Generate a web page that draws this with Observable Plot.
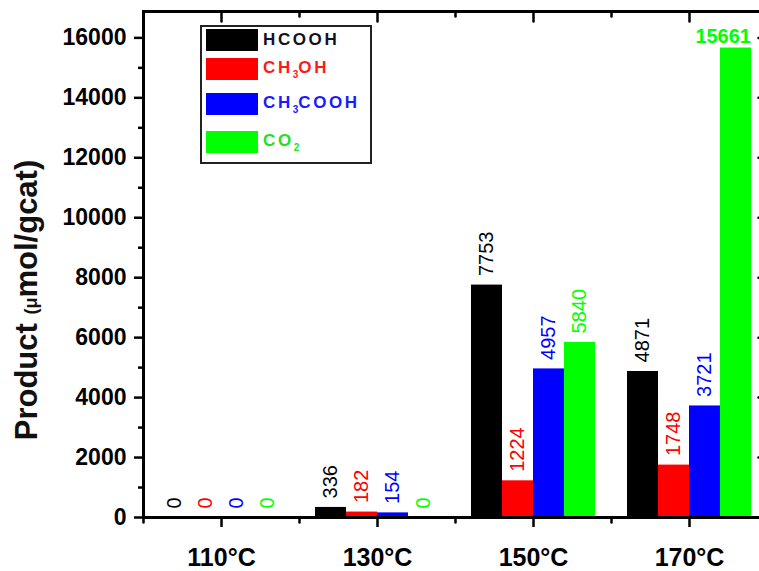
<!DOCTYPE html>
<html>
<head>
<meta charset="utf-8">
<script src="https://cdn.jsdelivr.net/npm/d3@7"></script>
<script src="https://cdn.jsdelivr.net/npm/@observablehq/plot@0.6"></script>
<style>
  html, body { margin: 0; padding: 0; background: #fff; }
  #wrap { position: relative; width: 759px; height: 571px; overflow: hidden; font-family: "Liberation Sans", Arial, sans-serif; }
  #legend { position: absolute; left: 200px; top: 25px; width: 168px; height: 135px; border: 2px solid #222; background: #fff; box-sizing: content-box; }
  .row { position: absolute; left: 4px; height: 22px; display: flex; align-items: center; }
  .sw { width: 52px; height: 22px; }
  .lab { margin-left: 5px; font-size: 17px; font-weight: bold; letter-spacing: 2.6px; white-space: nowrap; }
  .lab sub { font-size: 10px; vertical-align: -5px; letter-spacing: 0; }
</style>
</head>
<body>
<div id="wrap">
  <div id="chart"></div>
  <div id="legend"></div>
</div>
<script>
// ---- data ----
const temps = ["110°C", "130°C", "150°C", "170°C"];
const series = ["HCOOH", "CH3OH", "CH3COOH", "CO2"];
const seriesLabelsHtml = ["HCOOH", "CH<sub>3</sub>OH", "CH<sub>3</sub>COOH", "CO<sub>2</sub>"];
const hcooh = [0, 336, 7753, 4871];
const ch3oh = [0, 182, 1224, 1748];
const ch3cooh = [0, 154, 4957, 3721];
const co2 = [0, 0, 5840, 15661];
const barColors = ["#000000", "#ff0000", "#0000ff", "#00ff00"];
const legendTextColors = ["#111122", "#ff1a1a", "#1a1aff", "#22e022"];
const yMajorTicks = [0, 2000, 4000, 6000, 8000, 10000, 12000, 14000, 16000];
const yMinorTicks = [1000, 3000, 5000, 7000, 9000, 11000, 13000, 15000];
const yMax = 16880;

const valuesBySeries = [hcooh, ch3oh, ch3cooh, co2];
const rows = temps.flatMap((t, i) => series.map((s, j) => ({temp: t, series: s, value: valuesBySeries[j][i]})));
const isTall = d => d.value > 14000;

const tickShape = {draw(context, l) { context.moveTo(0, 0); context.lineTo(0, -l); }};
const FONT = "'Liberation Sans', Arial, sans-serif";

const chart = Plot.plot({
  width: 759,
  height: 571,
  marginLeft: 142,
  marginRight: -8,
  marginTop: 11,
  marginBottom: 54,
  style: {fontFamily: FONT, background: "transparent", overflow: "hidden"},
  fx: {domain: temps, padding: 0, label: null},
  x: {domain: series, paddingInner: 0, paddingOuter: 0.46, axis: null},
  y: {domain: [0, yMax], label: null},
  color: {domain: series, range: barColors},
  marks: [
    Plot.barY(rows, {fx: "temp", x: "series", y: "value", fill: "series"}),
    Plot.text(rows.filter(d => !isTall(d)), {
      fx: "temp", x: "series", y: "value", text: d => String(d.value),
      rotate: -90, textAnchor: "start", lineAnchor: "middle", dy: -9,
      fill: "series", fontSize: 20, letterSpacing: "0.5px"
    }),
    Plot.text(rows.filter(isTall), {
      fx: "temp", x: "series", y: "value", text: d => String(d.value),
      textAnchor: "end", lineAnchor: "bottom", dx: 15, dy: -5,
      fill: "series", fontSize: 20, fontWeight: "bold"
    }),
    // y axis (left, outward)
    Plot.axisY(yMajorTicks, {tickSize: 9, tickPadding: 8, strokeWidth: 2.5, fontSize: 23, fontWeight: "bold", tickFormat: d => String(d), label: null}),
    Plot.axisY(yMinorTicks, {tickSize: 5, strokeWidth: 2.5, tickFormat: () => "", label: null}),
    // right side inward ticks
    Plot.vector(yMajorTicks, {y: d => d, frameAnchor: "right", facetAnchor: "right", length: 9, rotate: -90, anchor: "start", shape: tickShape, strokeWidth: 2.5, stroke: "black"}),
    Plot.vector(yMinorTicks, {y: d => d, frameAnchor: "right", facetAnchor: "right", length: 5, rotate: -90, anchor: "start", shape: tickShape, strokeWidth: 2.5, stroke: "black"}),
    // bottom axis (facets)
    Plot.axisFx({anchor: "bottom", tickSize: 10, tickPadding: 21, strokeWidth: 2.5, fontSize: 25, fontWeight: "bold", letterSpacing: "1.5px", label: null}),
    Plot.vector([0], {frameAnchor: "bottom-left", length: 5, rotate: 180, anchor: "start", shape: tickShape, strokeWidth: 2.5, stroke: "black"}),
    // top inward ticks
    Plot.vector([0], {frameAnchor: "top", length: 10, rotate: 180, anchor: "start", shape: tickShape, strokeWidth: 2.5, stroke: "black"}),
    Plot.vector([0], {frameAnchor: "top-left", length: 5, rotate: 180, anchor: "start", shape: tickShape, strokeWidth: 2.5, stroke: "black"}),
    // frame
    Plot.frame({anchor: "top", strokeWidth: 3, strokeLinecap: "square"}),
    Plot.frame({anchor: "bottom", strokeWidth: 3, strokeLinecap: "square"}),
    Plot.frame({anchor: "left", facetAnchor: "left", strokeWidth: 3, strokeLinecap: "square"}),
    Plot.frame({anchor: "right", facetAnchor: "right", strokeWidth: 3, strokeLinecap: "square"})
  ]
});
document.getElementById("chart").appendChild(chart);

// y-axis title with mixed sizes
const svg = d3.select(chart);
const title = svg.append("text")
  .attr("transform", "translate(37,300) rotate(-90)")
  .attr("text-anchor", "middle")
  .attr("font-family", FONT)
  .attr("font-weight", "bold")
  .attr("fill", "#111");
title.append("tspan").attr("font-size", 31).text("Product ");
title.append("tspan").attr("font-size", 18).text("(μ");
title.append("tspan").attr("font-size", 31).text("mol/gcat)");

// legend
const legendTops = [2, 31, 66, 104];
const legend = document.getElementById("legend");
series.forEach((s, j) => {
  const row = document.createElement("div");
  row.className = "row";
  row.style.top = legendTops[j] + "px";
  row.innerHTML = `<div class="sw" style="background:${barColors[j]}"></div><div class="lab" style="color:${legendTextColors[j]}">${seriesLabelsHtml[j]}</div>`;
  legend.appendChild(row);
});
</script>
</body>
</html>
